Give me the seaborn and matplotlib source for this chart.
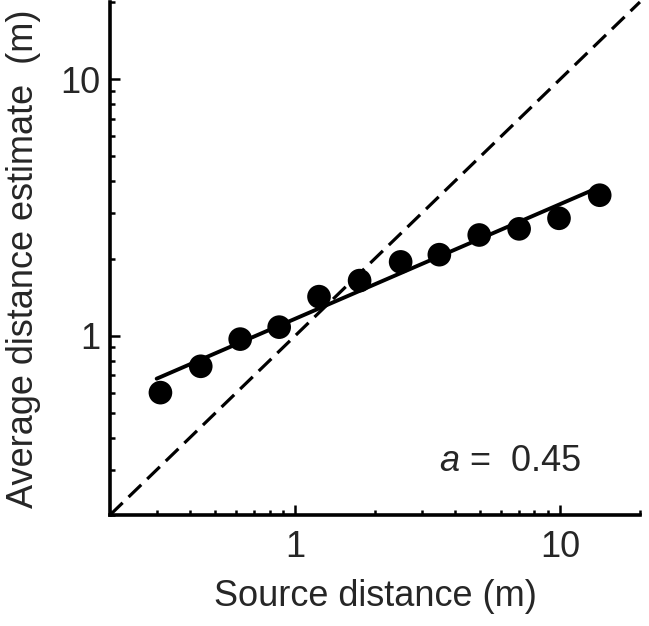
import matplotlib
matplotlib.use("Agg")
import matplotlib.pyplot as plt
import matplotlib.ticker as mticker
import pandas as pd
import seaborn as sns

# Data
source_dist = [0.31, 0.44, 0.62, 0.87, 1.23, 1.75, 2.5, 3.5, 4.95, 7.0, 9.9, 14.1]
estimate = [0.60, 0.76, 0.97, 1.08, 1.42, 1.64, 1.94, 2.07, 2.47, 2.61, 2.87, 3.53]
fit_x = [0.30, 14.1]   # power-law fit, end points
fit_y = [0.68, 3.80]
diag = [0.2, 20]       # veridical line y = x
tick_vals = [1, 10]
tick_labels = ["1", "10"]

df = pd.DataFrame({"x": source_dist, "y": estimate})
fit = pd.DataFrame({"x": fit_x, "y": fit_y})

sns.set_style("ticks")
plt.rcParams["font.family"] = ["Liberation Sans", "DejaVu Sans"]
plt.rcParams["mathtext.fontset"] = "custom"
plt.rcParams["mathtext.it"] = "Liberation Sans:italic"
plt.rcParams["mathtext.rm"] = "Liberation Sans"

fig = plt.figure(figsize=(6.49, 6.26), dpi=100)
ax = fig.add_axes([0.1695, 0.1773, 0.8165, 0.8195])

ax.set_xscale("log")
ax.set_yscale("log")

# dashed y = x line
ax.plot(diag, diag, color="black", lw=2.3, ls=(0, (5.5, 2.6)), clip_on=False)
# fit line
sns.lineplot(data=fit, x="x", y="y", color="black", lw=2.8, ax=ax)
# data points
sns.scatterplot(data=df, x="x", y="y", color="black", s=290,
                edgecolor="none", ax=ax, zorder=5, clip_on=False)

ax.set_xlim(0.2, 20)
ax.set_ylim(0.2, 20)

for axis in (ax.xaxis, ax.yaxis):
    axis.set_major_locator(mticker.FixedLocator(tick_vals))
    axis.set_major_formatter(mticker.FixedFormatter(tick_labels))
    axis.set_minor_locator(mticker.LogLocator(base=10, subs=range(2, 10)))
    axis.set_minor_formatter(mticker.NullFormatter())

ax.tick_params(which="major", direction="in", length=7, width=1.8,
               labelsize=26, color="black")
ax.tick_params(which="minor", direction="in", length=3.5, width=1.8,
               color="black")
ax.tick_params(axis="x", which="major", pad=11)
ax.tick_params(axis="y", which="major", pad=7)

sns.despine(ax=ax)
for side in ("left", "bottom"):
    ax.spines[side].set_linewidth(2.6)
    ax.spines[side].set_color("black")

ax.set_xlabel("Source distance (m)", fontsize=26, labelpad=10)
ax.set_ylabel("Average distance estimate  (m)", fontsize=26, labelpad=14)

ax.text(3.5, 0.322, r"$a$ =  0.45", fontsize=26, ha="left", va="center")

fig.savefig("out.png", dpi=100)
